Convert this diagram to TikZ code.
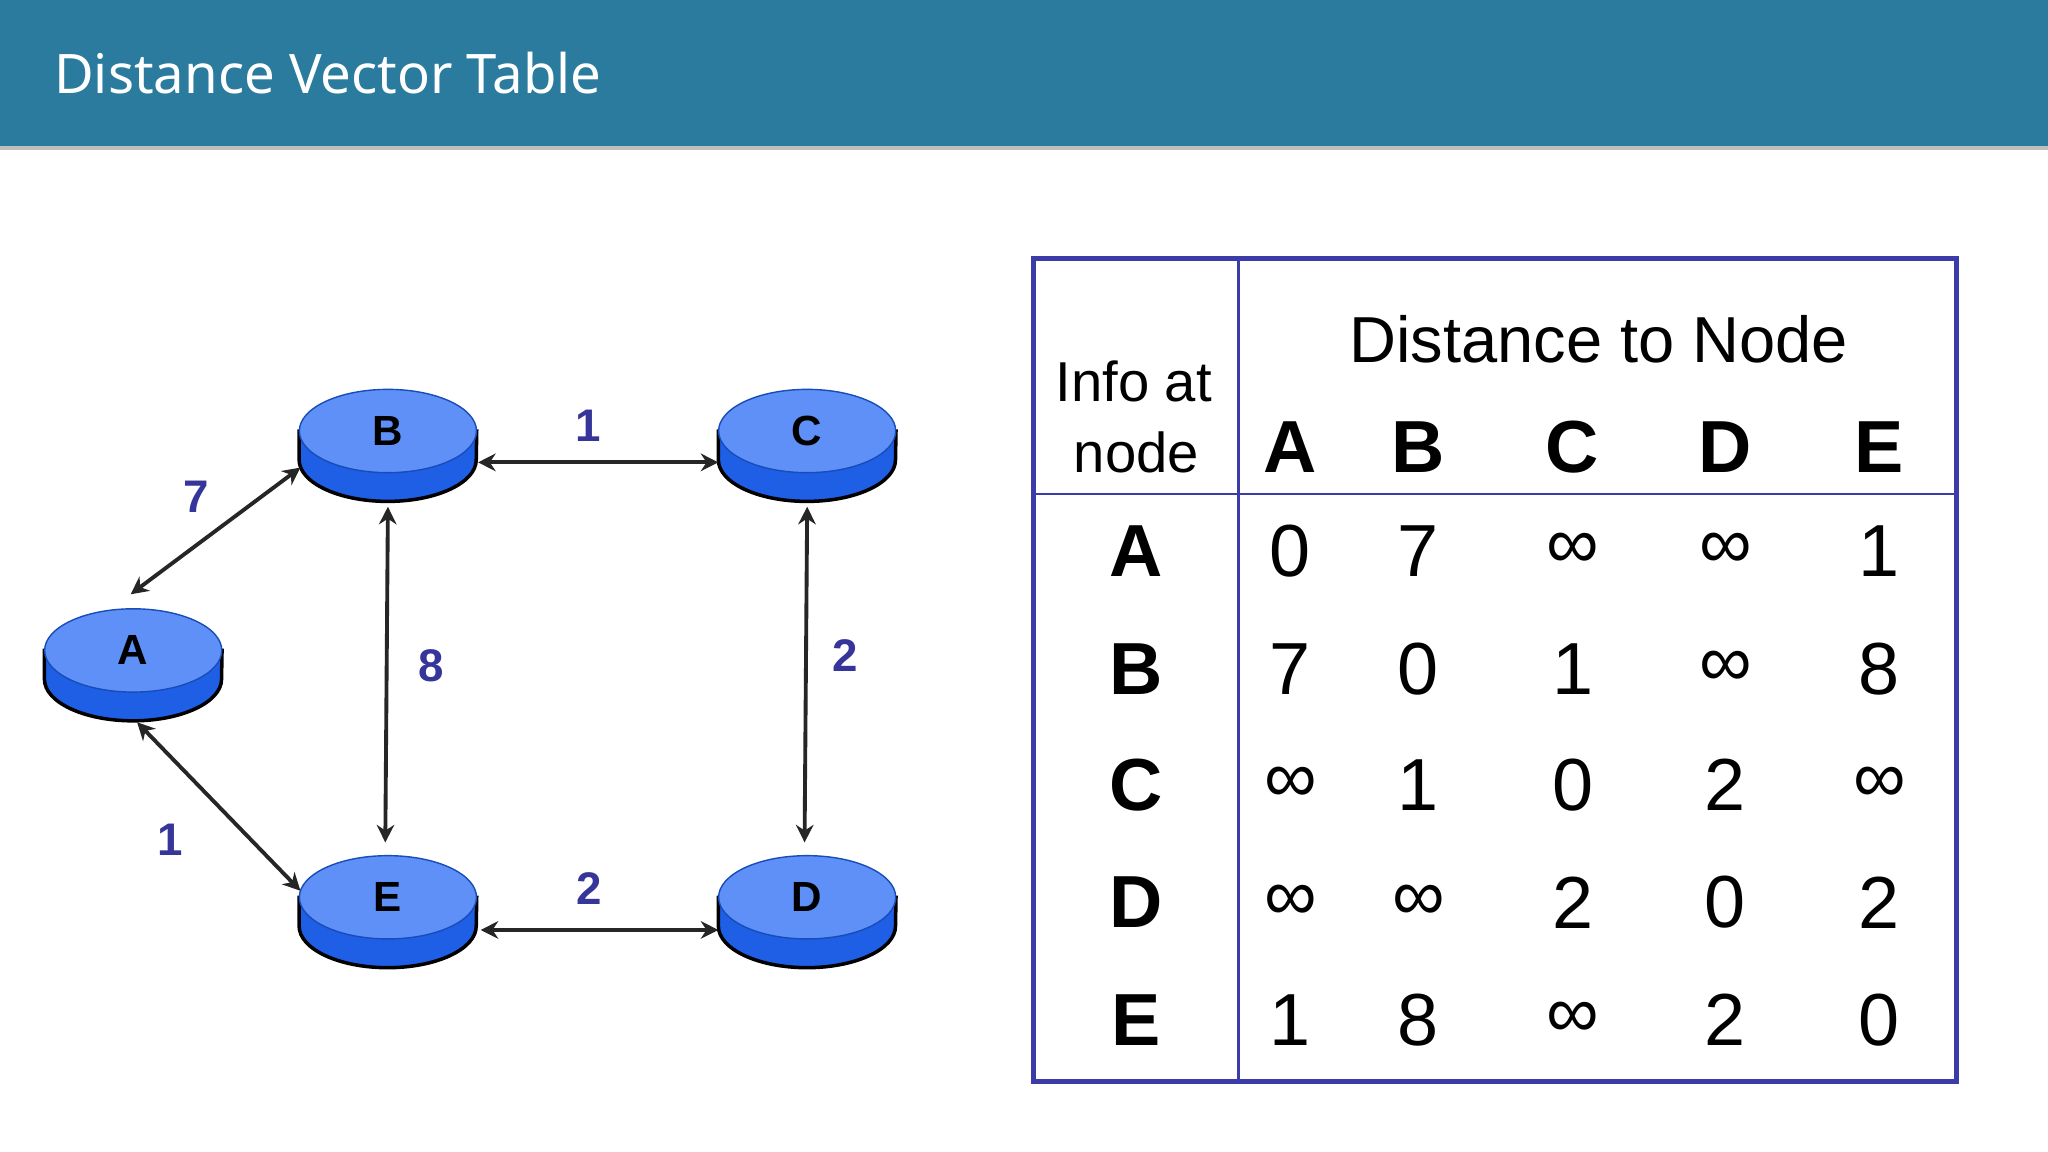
\documentclass[tikz,border=0pt]{standalone}
\usepackage{fontspec}
\setmainfont{Liberation Sans}
\newfontfamily\titlefont{Noto Sans}
\usetikzlibrary{arrows.meta}
\definecolor{hdr}{HTML}{2A7B9E}
\definecolor{tbl}{HTML}{3C3CA8}
\definecolor{lbl}{HTML}{35359A}
\definecolor{topc}{HTML}{5E90F7}
\definecolor{sidec}{HTML}{1E5FE6}
\tikzset{
  edge/.style={line width=1.1pt,{Stealth[length=5pt,width=5pt]}-{Stealth[length=5pt,width=5pt]},black!85},
  wlbl/.style={text=lbl,font=\bfseries\fontsize{13}{13}\selectfont},
  nlbl/.style={font=\bfseries\fontsize{12}{12}\selectfont},
  cell/.style={font=\fontsize{21}{21}\selectfont},
  hcell/.style={font=\bfseries\fontsize{21}{21}\selectfont},
}
\newcommand\mydisk[3]{%
  \fill[sidec,draw=black,line width=1pt] (#1-68,#2) -- (#1-68,#2+22) arc(180:360:25.2pt and 11.85pt) -- (#1+68,#2) -- cycle;
  \fill[topc,draw=sidec!80!black,line width=0.4pt] (#1,#2) ellipse (25.2pt and 11.85pt);
  \node[nlbl] (#3) at (#1,#2) {#3};
}
\begin{document}
\begin{tikzpicture}[x=0.01306cm,y=-0.01306cm]
\useasboundingbox (0,0) rectangle (1568,882);
\fill[white] (0,0) rectangle (1568,882);
\fill[hdr] (0,0) rectangle (1568,112);
\fill[black!25] (0,112) rectangle (1568,115);
\node[anchor=west,text=white,font=\titlefont\fontsize{15.5}{16}\selectfont] (title) at (32,56) {Distance Vector Table};

\mydisk{102}{498}{A}
\mydisk{297}{330}{B}
\mydisk{618}{330}{C}
\mydisk{297}{687}{E}
\mydisk{618}{687}{D}

\coordinate (ab1) at (100,455); \coordinate (ab2) at (230,358);
\coordinate (bc1) at (366,354); \coordinate (bc2) at (550,354);
\coordinate (be1) at (297,388); \coordinate (be2) at (295,645);
\coordinate (cd1) at (618,388); \coordinate (cd2) at (616,645);
\coordinate (ed1) at (368,712); \coordinate (ed2) at (550,712);
\coordinate (ae1) at (105,553); \coordinate (ae2) at (230,682);
\draw[edge] (ab1) -- (ab2);
\draw[edge] (bc1) -- (bc2);
\draw[edge] (be1) -- (be2);
\draw[edge] (cd1) -- (cd2);
\draw[edge] (ed1) -- (ed2);
\draw[edge] (ae1) -- (ae2);
\node[wlbl] (w1) at (150,380) {7};
\node[wlbl] (w2) at (450,326) {1};
\node[wlbl] (w3) at (330,510) {8};
\node[wlbl] (w4) at (647,502) {2};
\node[wlbl] (w5) at (130,643) {1};
\node[wlbl] (w6) at (451,680) {2};

\draw[tbl,line width=1.4pt] (791,198) rectangle (1498,828);
\draw[tbl,line width=0.8pt] (948,198) -- (948,828);
\draw[tbl,line width=0.6pt] (791,378) -- (1498,378);
\node[font=\fontsize{18.5}{19}\selectfont] (dist) at (1224,260) {Distance to Node};
\node[font=\fontsize{16}{16}\selectfont] (info1) at (868,292) {Info at};
\node[font=\fontsize{16}{16}\selectfont] (info2) at (870,346) {node};
\foreach \c/\x in {A/988,B/1086,C/1204,D/1321,E/1439}
  \node[hcell] (h\c) at (\x,342) {\c};
\foreach \r/\y/\va/\vb/\vc/\vd/\ve in {
  A/422/0/7/∞/∞/1,
  B/512/7/0/1/∞/8,
  C/601/∞/1/0/2/∞,
  D/691/∞/∞/2/0/2,
  E/781/1/8/∞/2/0}{
  \node[hcell] (r\r) at (870,\y) {\r};
  \node[cell] (c\r A) at (988,\y) {\va};
  \node[cell] (c\r B) at (1086,\y) {\vb};
  \node[cell] (c\r C) at (1204,\y) {\vc};
  \node[cell] (c\r D) at (1321,\y) {\vd};
  \node[cell] (c\r E) at (1439,\y) {\ve};
}
\end{tikzpicture}
\end{document}
